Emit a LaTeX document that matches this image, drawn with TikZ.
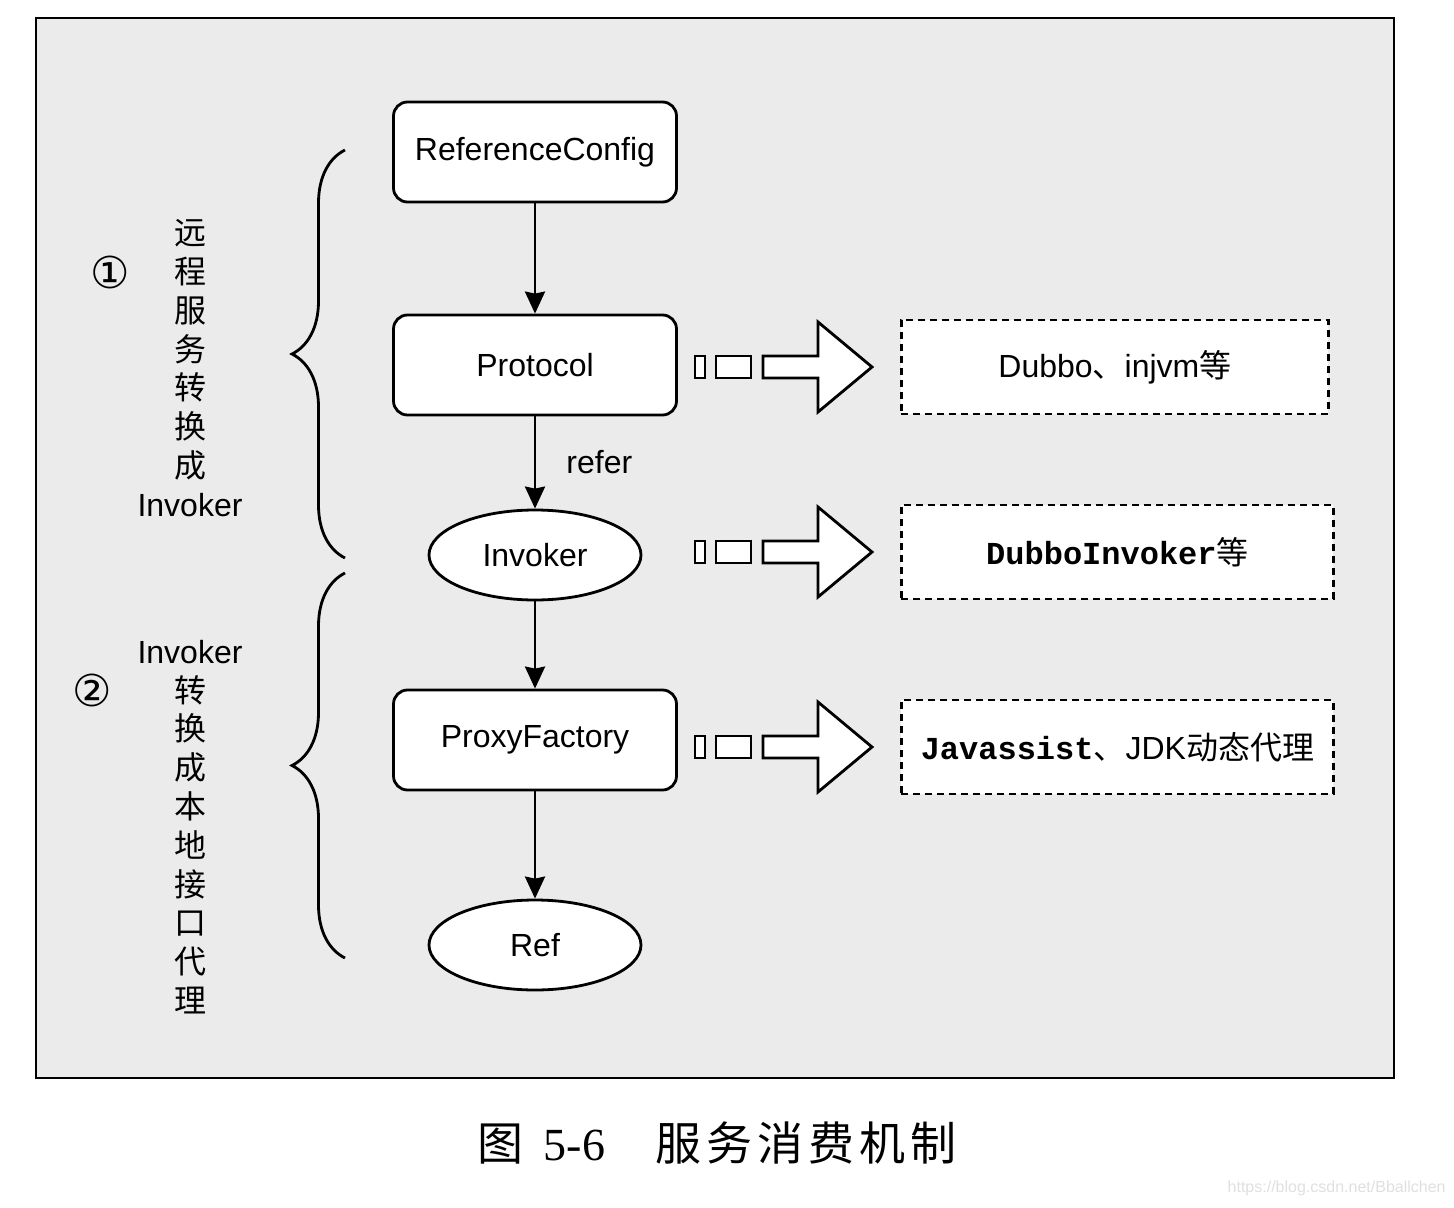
\documentclass[tikz,border=0pt]{standalone}
\usepackage{fontspec}
\setmainfont{Liberation Sans}
\newfontfamily\cjk{Noto Sans CJK SC}
\newfontfamily\monofont{Liberation Mono}
\newfontfamily\symfont{DejaVu Sans}
\newfontfamily\seriffont{Liberation Serif}
\usetikzlibrary{arrows.meta,decorations.pathreplacing,shapes.geometric}

\begin{document}
\begin{tikzpicture}[x=0.5pt, y=-0.5pt,
    % Styles des etapes
    etape/.style={rectangle, rounded corners=7pt, draw, line width=1.4pt, fill=white,
                  minimum width=141.5pt, minimum height=50pt, font=\fontsize{16}{19}\selectfont},
    objet/.style={ellipse, draw, line width=1.4pt, fill=white, inner sep=0pt,
                  minimum width=106pt, minimum height=45pt, font=\fontsize{16}{19}\selectfont},
    % Style des implementations
    impl/.style={rectangle, draw, line width=1.4pt, dash pattern=on 3.5pt off 2.5pt,
                 fill=white, anchor=west, minimum width=216pt, minimum height=47pt,
                 font=\fontsize{16}{19}\selectfont},
    % Style des fleches
    arrow/.style={-{Stealth[length=11pt, width=10pt, inset=1pt]}, line width=1.4pt},
    accolade/.style={line width=1.4pt, decorate, decoration={brace, amplitude=26.5pt}},
    % Style des labels lateraux
    vlabel/.style={align=center, inner sep=0pt, font=\cjk\fontsize{16}{19.4}\selectfont},
    numero/.style={inner sep=0pt, font=\symfont\fontsize{22}{22}\selectfont}
]
\fill[white] (0,0) rectangle (1454,1208);
\useasboundingbox (0,0) rectangle (1454,1208);

% ==========================================
% CADRE
% ==========================================
\draw[line width=0.8pt, fill=black!8] (36,18) rectangle (1394,1078);

% ==========================================
% CHAINE PRINCIPALE
% ==========================================
\node[etape] (refconf) at (535,152) {ReferenceConfig};
\node[etape] (protocol) at (535,365) {Protocol};
\node[objet] (invoker) at (535,555) {Invoker};
\node[etape] (proxy) at (535,740) {ProxyFactory};
\node[objet] (ref) at (535,945) {Ref};

% Fleches
\draw[arrow] (refconf) -- (protocol);
\draw[arrow] (protocol) -- node[right=15pt, inner sep=0pt, font=\fontsize{16}{19}\selectfont] (refer) {refer} (invoker);
\draw[arrow] (invoker) -- (proxy);
\draw[arrow] (proxy) -- (ref);

% ==========================================
% IMPLEMENTATIONS (droite)
% ==========================================
\node[impl, minimum width=213.5pt] (dubbo) at (900,367) {Dubbo{\cjk 、}injvm{\cjk 等}};
\node[impl] (dubboinv) at (900,552) {{\monofont\bfseries DubboInvoker}{\cjk 等}};
\node[impl] (javassist) at (900,747) {{\monofont\bfseries Javassist}{\cjk 、}JDK{\cjk 动态代理}};

% Grosses fleches
\foreach \b in {dubbo, dubboinv, javassist} {
  \begin{scope}[shift={(\b.west)}, line width=1.4pt]
    \draw[fill=white] (-205,-11) rectangle (-195,11);
    \draw[fill=white] (-184,-11) rectangle (-149,11);
    \draw[fill=white] (-137,-11) -- (-82,-11) -- (-82,-45) -- (-28,0) -- (-82,45) -- (-82,11) -- (-137,11) -- cycle;
  \end{scope}
}

% ==========================================
% ACCOLADES ET LABELS (gauche)
% ==========================================
\draw[accolade] (345,558) -- (345,150);
\draw[accolade] (345,958) -- (345,573);

\node[numero] (num1) at (110,272) {①};
\node[vlabel] (titre1) at (190,368) {远\\程\\服\\务\\转\\换\\成\\{\normalfont Invoker}};
\node[numero] (num2) at (92,690) {②};
\node[vlabel] (titre2) at (190,827) {{\normalfont Invoker}\\转\\换\\成\\本\\地\\接\\口\\代\\理};

% ==========================================
% LEGENDE
% ==========================================
\node[inner sep=0pt, font=\fontsize{23}{23}\selectfont] (legende) at (717,1143)
  {{\cjk 图}\hspace{10pt}{\seriffont 5-6}\hspace{25pt}{\cjk 服\hspace{2.5pt}务\hspace{2.5pt}消\hspace{2.5pt}费\hspace{2.5pt}机\hspace{2.5pt}制}};
\node[anchor=east, inner sep=0pt, text=black!12, font=\fontsize{8}{8}\selectfont] (source) at (1446,1188)
  {https://blog.csdn.net/Bballchen};

\end{tikzpicture}
\end{document}
